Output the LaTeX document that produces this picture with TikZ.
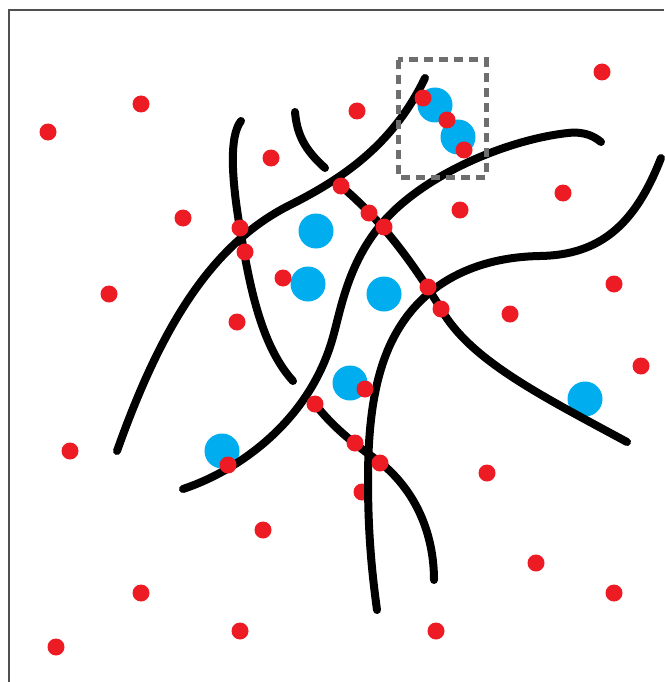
\documentclass[tikz,border=0pt]{standalone}
\usepackage{tikz}
\usepackage{xcolor}
\definecolor{ink}{HTML}{000000}
\definecolor{dotred}{HTML}{ED1C24}
\definecolor{cellblue}{HTML}{00AEEF}
\definecolor{boxgray}{HTML}{6E6E6E}
\definecolor{framec}{HTML}{505050}

\begin{document}
\begin{tikzpicture}[
  x=1pt, y=-1pt,
  fibre/.style={draw=ink, line width=8pt, line cap=round, line join=round}
]
\useasboundingbox (0,0) rectangle (664,682);

% Frame
\draw[draw=framec, line width=1.5pt] (9,682) -- (9,10) -- (664,10);

% Blue cells
\foreach \x/\y in {435/105, 458/137, 316/231, 308/284, 384/294, 350/383, 222/451, 585/399} {
  \fill[cellblue] (\x,\y) circle (17.5);
}

% Dot under a fibre
\fill[dotred] (362,492) circle (8.5);

% Fibres
\draw[fibre] (117,451) .. controls (160,330) and (210,245) .. (290,205)
  .. controls (350,175) and (395,140) .. (425,78);
\draw[fibre] (241,121) .. controls (229,136) and (231,180) .. (242,240)
  .. controls (252,300) and (265,350) .. (293,381);
\draw[fibre] (295,112) .. controls (297,135) and (305,150) .. (325,168);
\draw[fibre] (341,186) .. controls (375,215) and (405,250) .. (441,309)
  .. controls (470,360) and (540,395) .. (627,442);
\draw[fibre] (661,158) .. controls (635,225) and (600,255) .. (540,256)
  .. controls (480,257) and (420,280) .. (390,345)
  .. controls (375,378) and (368,420) .. (368,480)
  .. controls (368,540) and (373,580) .. (377,610);
\draw[fibre] (183,489) .. controls (240,470) and (310,420) .. (333,337)
  .. controls (342,305) and (350,250) .. (398,207)
  .. controls (446,164) and (520,138) .. (568,133)
  .. controls (585,131) and (595,137) .. (601,142);
\draw[fibre] (315,404) .. controls (335,430) and (360,448) .. (381,463)
  .. controls (420,495) and (434,540) .. (434,580);

% Red dots
\foreach \x/\y in {48/132, 141/104, 357/111, 602/72, 271/158, 183/218, 460/210, 563/193,
  109/294, 237/322, 283/278, 614/284, 510/314, 641/366, 70/451, 487/473, 263/530,
  536/563, 141/593, 614/593, 56/647, 240/631, 436/631,
  423/98, 447/120, 464/150, 341/186, 369/213, 384/227, 240/228, 245/252, 428/287,
  441/309, 365/389, 315/404, 355/443, 380/463, 228/465} {
  \fill[dotred] (\x,\y) circle (8.5);
}

% Dashed inset box
\draw[draw=boxgray, line width=5pt, dash pattern=on 9pt off 6pt] (398,60) rectangle (486,177);

\end{tikzpicture}
\end{document}
